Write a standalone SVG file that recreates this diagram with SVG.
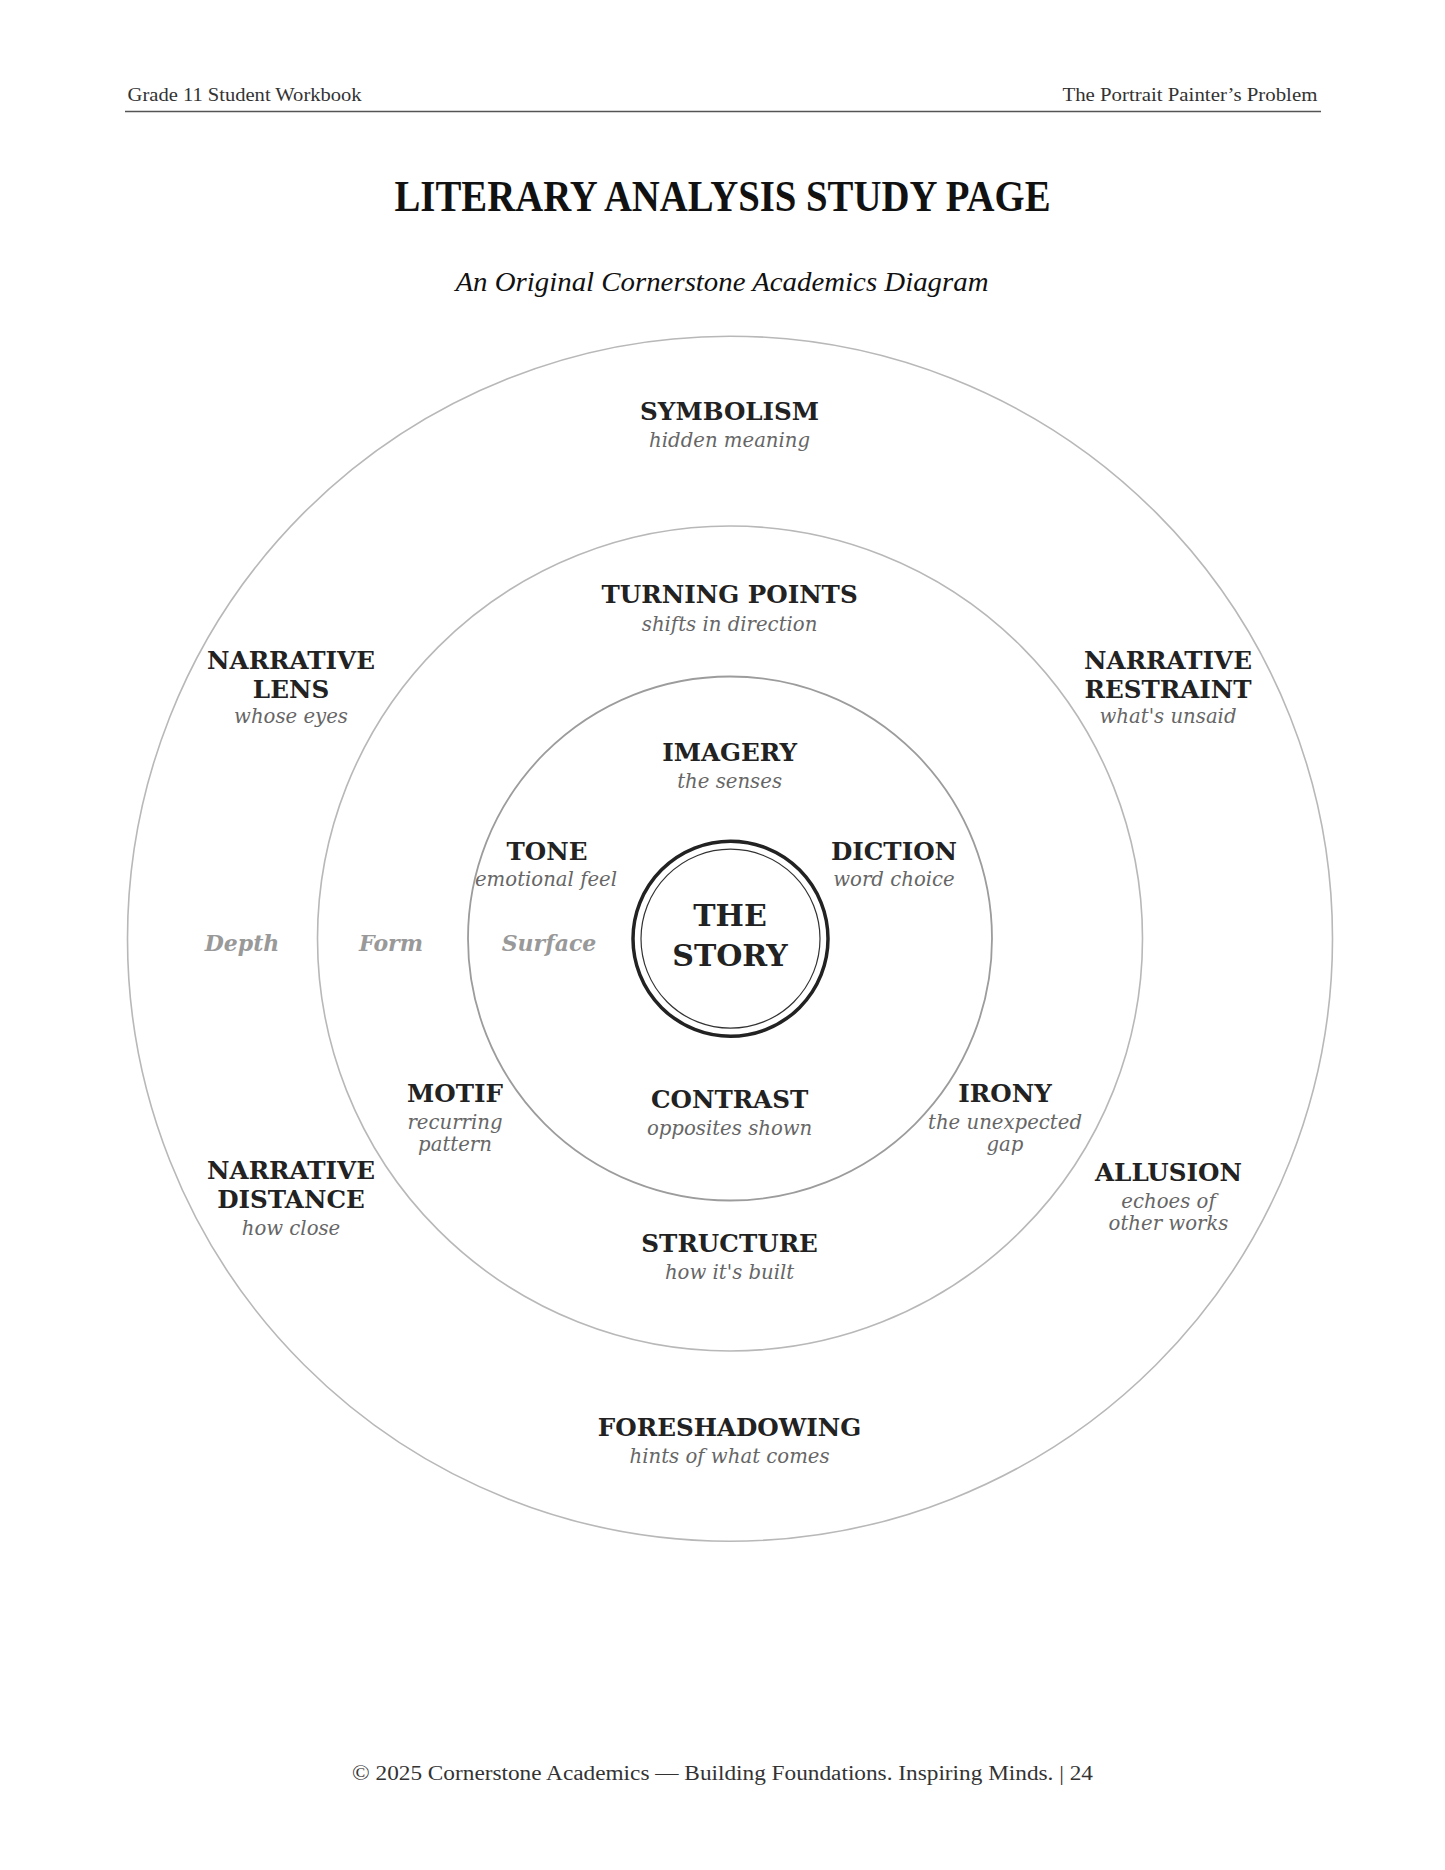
<svg xmlns="http://www.w3.org/2000/svg" width="1445" height="1870" viewBox="0 0 1445 1870">
<style>
.hdr{font-family:"Liberation Serif",serif;font-size:18px;fill:#333}
.title{font-family:"Liberation Serif",serif;font-weight:bold;font-size:44px;fill:#111}
.sub{font-family:"Liberation Serif",serif;font-style:italic;font-size:27px;fill:#111}
.lbl{font-family:"DejaVu Serif",serif;font-weight:bold;font-size:24.6px;fill:#222;text-anchor:middle}
.desc{font-family:"DejaVu Serif",serif;font-style:italic;font-size:19.7px;fill:#666;text-anchor:middle}
.layer{font-family:"DejaVu Serif",serif;font-style:italic;font-weight:bold;font-size:22px;fill:#999;text-anchor:middle}
.core{font-family:"DejaVu Serif",serif;font-weight:bold;font-size:30px;fill:#222;text-anchor:middle}
.ring{fill:none;stroke:#b8b8b8;stroke-width:1.6}
.ring2{fill:none;stroke:#9c9c9c;stroke-width:1.8}
</style>
<rect width="1445" height="1870" fill="#fff"/>
<g id="header">
<text class="hdr" x="127.6" y="101.3" textLength="234" lengthAdjust="spacingAndGlyphs">Grade 11 Student Workbook</text>
<text class="hdr" x="1317.4" y="101.3" text-anchor="end" textLength="255" lengthAdjust="spacingAndGlyphs">The Portrait Painter’s Problem</text>
<line x1="125" y1="111.5" x2="1321" y2="111.5" stroke="#555" stroke-width="1.5"/>
</g>
<text class="title" x="722.5" y="211" text-anchor="middle" textLength="656" lengthAdjust="spacingAndGlyphs">LITERARY ANALYSIS STUDY PAGE</text>
<text class="sub" x="722" y="291" text-anchor="middle" textLength="533" lengthAdjust="spacingAndGlyphs">An Original Cornerstone Academics Diagram</text>
<g id="rings">
<circle class="ring" cx="730" cy="938.7" r="602.5"/>
<circle class="ring" cx="730" cy="938.5" r="412.5"/>
<circle class="ring2" cx="730" cy="938.5" r="262"/>
</g>
<g id="the-story">
<circle cx="730.5" cy="938.7" r="97.5" fill="none" stroke="#222" stroke-width="3.5"/>
<circle cx="730.5" cy="938.7" r="89.5" fill="none" stroke="#333" stroke-width="1.2"/>
<text class="core" x="730" y="926">THE</text>
<text class="core" x="730" y="966">STORY</text>
</g>
<g id="symbolism"><text class="lbl" x="729.6" y="419.7">SYMBOLISM</text><text class="desc" x="729.6" y="447">hidden meaning</text></g>
<g id="turning-points"><text class="lbl" x="729.6" y="603">TURNING POINTS</text><text class="desc" x="729.6" y="630.7">shifts in direction</text></g>
<g id="imagery"><text class="lbl" x="729.6" y="760.6">IMAGERY</text><text class="desc" x="729.6" y="788">the senses</text></g>
<g id="tone"><text class="lbl" x="547" y="859.5">TONE</text><text class="desc" x="546" y="886">emotional feel</text></g>
<g id="diction"><text class="lbl" x="894" y="859.5">DICTION</text><text class="desc" x="894" y="886">word choice</text></g>
<g id="narrative-lens"><text class="lbl" x="291" y="668.5">NARRATIVE</text><text class="lbl" x="291" y="697.5">LENS</text><text class="desc" x="291" y="723">whose eyes</text></g>
<g id="narrative-restraint"><text class="lbl" x="1168" y="668.5">NARRATIVE</text><text class="lbl" x="1168" y="697.5">RESTRAINT</text><text class="desc" x="1168" y="723">what's unsaid</text></g>
<g id="layers">
<text class="layer" x="242" y="951">Depth</text>
<text class="layer" x="391" y="951">Form</text>
<text class="layer" x="549" y="951">Surface</text>
</g>
<g id="motif"><text class="lbl" x="455" y="1102">MOTIF</text><text class="desc" x="455" y="1129">recurring</text><text class="desc" x="455" y="1150.5">pattern</text></g>
<g id="contrast"><text class="lbl" x="729.6" y="1107.6">CONTRAST</text><text class="desc" x="729.6" y="1135">opposites shown</text></g>
<g id="irony"><text class="lbl" x="1005" y="1102">IRONY</text><text class="desc" x="1005" y="1129">the unexpected</text><text class="desc" x="1005" y="1150.5">gap</text></g>
<g id="narrative-distance"><text class="lbl" x="291" y="1179">NARRATIVE</text><text class="lbl" x="291" y="1208">DISTANCE</text><text class="desc" x="291" y="1235">how close</text></g>
<g id="allusion"><text class="lbl" x="1168.5" y="1181">ALLUSION</text><text class="desc" x="1168.5" y="1208">echoes of</text><text class="desc" x="1168.5" y="1229.5">other works</text></g>
<g id="structure"><text class="lbl" x="729.6" y="1252">STRUCTURE</text><text class="desc" x="729.6" y="1279">how it's built</text></g>
<g id="foreshadowing"><text class="lbl" x="729.6" y="1435.5">FORESHADOWING</text><text class="desc" x="729.6" y="1463">hints of what comes</text></g>
<text class="hdr" x="722.5" y="1780" text-anchor="middle" textLength="741" lengthAdjust="spacingAndGlyphs" style="font-size:20px">© 2025 Cornerstone Academics — Building Foundations. Inspiring Minds. | 24</text>
</svg>
